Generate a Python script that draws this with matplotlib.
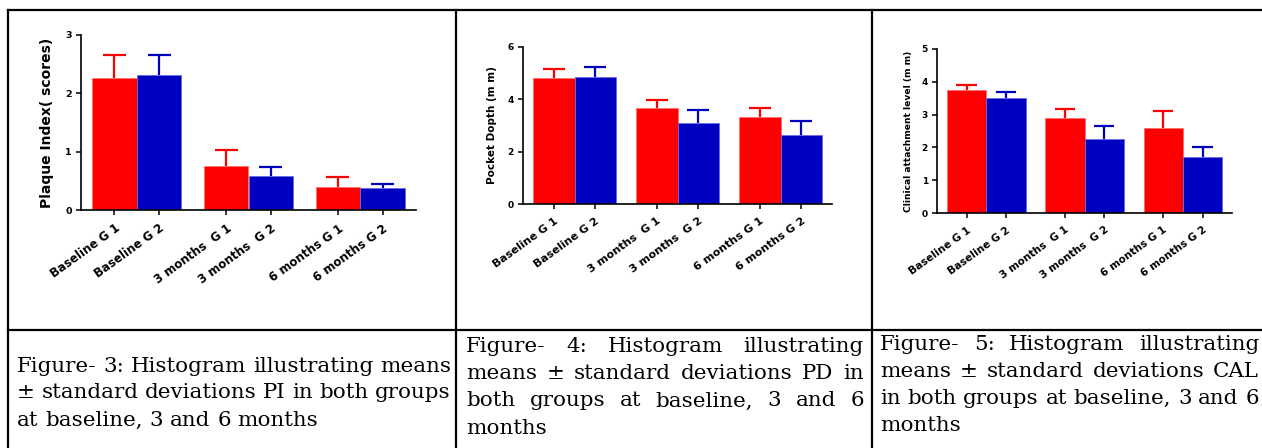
import matplotlib
matplotlib.use("Agg")
import matplotlib.pyplot as plt
import matplotlib.transforms as mtransforms

W, H = 1262, 448

# x categories (same for all three charts)
labels = ["Baseline G 1", "Baseline G 2", "3 months  G 1", "3 months  G 2",
          "6 months G 1", "6 months G 2"]

# Plaque index (scores)
pi_mean = [2.27, 2.32, 0.75, 0.58, 0.39, 0.37]
pi_sd = [0.39, 0.33, 0.28, 0.15, 0.18, 0.08]

# Pocket depth (mm)
pd_mean = [4.83, 4.85, 3.66, 3.08, 3.33, 2.63]
pd_sd = [0.32, 0.39, 0.30, 0.50, 0.32, 0.53]

# Clinical attachment level (mm)
cal_mean = [3.75, 3.52, 2.91, 2.27, 2.59, 1.71]
cal_sd = [0.14, 0.16, 0.27, 0.37, 0.53, 0.29]

captions = [
    ["Figure- 3: Histogram illustrating means",
     "\u00b1 standard deviations PI in both groups",
     "at baseline, 3 and 6 months"],
    ["Figure- 4: Histogram illustrating",
     "means \u00b1 standard deviations PD in",
     "both groups at baseline, 3 and 6",
     "months"],
    ["Figure- 5: Histogram illustrating",
     "means \u00b1 standard deviations CAL",
     "in both groups at baseline, 3 and 6",
     "months"],
]

red = "#ff0000"
blue = "#0000c0"
bar_colors = [red, blue] * 3
edge_colors = ["#ff7070", "#6a6ae8"] * 3

# two bars per group, groups 2.5 units apart
xpos = [g * 2.5 + m for g in range(3) for m in range(2)]

panels = [
    dict(mean=pi_mean, sd=pi_sd, ylabel="Plaque Index( scores)", yticks=[0, 1, 2, 3],
         box=(81, 35, 416, 210), lab_x=47, lab_fs=10, tick_fs=6.8, xt_fs=8.5),
    dict(mean=pd_mean, sd=pd_sd, ylabel="Pocket Dopth (m m)", yticks=[0, 2, 4, 6],
         box=(523, 47, 832, 204), lab_x=492, lab_fs=7.5, tick_fs=6.5, xt_fs=8),
    dict(mean=cal_mean, sd=cal_sd, ylabel="Clinical attachment level (m m)",
         yticks=[0, 1, 2, 3, 4, 5],
         box=(937, 49, 1232, 213), lab_x=909, lab_fs=6.6, tick_fs=6.5, xt_fs=7.6),
]

fig = plt.figure(figsize=(W / 100, H / 100), dpi=100)

# background axes in pixel units for the table frame and the captions
bg = fig.add_axes([0, 0, 1, 1])
bg.set_xlim(0, W)
bg.set_ylim(H, 0)
bg.axis("off")

lw = 1.6
bg.plot([8, W], [10, 10], color="black", lw=lw, solid_capstyle="projecting")
bg.plot([8, W], [330, 330], color="black", lw=lw, solid_capstyle="projecting")
for xv in (8, 456, 872):
    bg.plot([xv, xv], [10, H], color="black", lw=lw, solid_capstyle="projecting")

shift = mtransforms.ScaledTranslation(-3 / 72, -2 / 72, fig.dpi_scale_trans)

for p in panels:
    x0, y0, x1, y1 = p["box"]
    ax = fig.add_axes([x0 / W, 1 - y1 / H, (x1 - x0) / W, (y1 - y0) / H])
    mean, sd = p["mean"], p["sd"]
    ax.bar(xpos, mean, width=1.0, color=bar_colors, edgecolor=edge_colors,
           linewidth=0.6, zorder=2)
    top = [m + s for m, s in zip(mean, sd)]
    ax.vlines(xpos, mean, top, colors=bar_colors, lw=1.6, zorder=3)
    ax.hlines(top, [x - 0.26 for x in xpos], [x + 0.26 for x in xpos],
              colors=bar_colors, lw=1.6, zorder=3)

    ax.set_xlim(-0.75, 6.75)
    ax.set_ylim(0, p["yticks"][-1])
    ax.set_yticks(p["yticks"])
    ax.set_xticks(xpos)
    ax.set_xticklabels(labels, rotation=36, ha="right", rotation_mode="anchor",
                       fontsize=p["xt_fs"], fontweight="bold", family="DejaVu Sans")
    for t in ax.get_xticklabels():
        t.set_transform(t.get_transform() + shift)
    for t in ax.get_yticklabels():
        t.set_fontsize(p["tick_fs"])
        t.set_fontweight("bold")
    ax.tick_params(axis="both", direction="out", length=3.5, width=1.1, color="black")
    ax.tick_params(axis="x", pad=5)
    ax.tick_params(axis="y", pad=3)
    for s in ("top", "right"):
        ax.spines[s].set_visible(False)
    for s in ("left", "bottom"):
        ax.spines[s].set_linewidth(1.2)
    ax.set_ylabel(p["ylabel"], fontsize=p["lab_fs"], fontweight="bold", va="center")
    ax.yaxis.set_label_coords((p["lab_x"] - x0) / (x1 - x0), 0.5)
    ax.patch.set_alpha(0)

# captions, justified like in the document
cap_fs = 15.4
renderer = fig.canvas.get_renderer()
space_w = 0.318 * cap_fs * 100 / 72
cols = [(17, 451, [371.5, 398.5, 425.5]),
        (466, 864, [352, 379, 406.5, 434]),
        (880, 1259, [350, 377, 404, 431])]

for (xl, xr, ys), lines in zip(cols, captions):
    for i, (line, y) in enumerate(zip(lines, ys)):
        words = line.split()
        objs = [bg.text(0, y, w, fontsize=cap_fs, family="DejaVu Serif",
                        va="baseline", ha="left") for w in words]
        widths = [o.get_window_extent(renderer).width for o in objs]
        last = i == len(lines) - 1
        if not last and len(words) > 1:
            gap = (xr - xl - sum(widths)) / (len(words) - 1)
        else:
            gap = space_w
        x = xl
        for o, wd in zip(objs, widths):
            o.set_x(x)
            x += wd + gap

fig.savefig("out.png", dpi=100)
